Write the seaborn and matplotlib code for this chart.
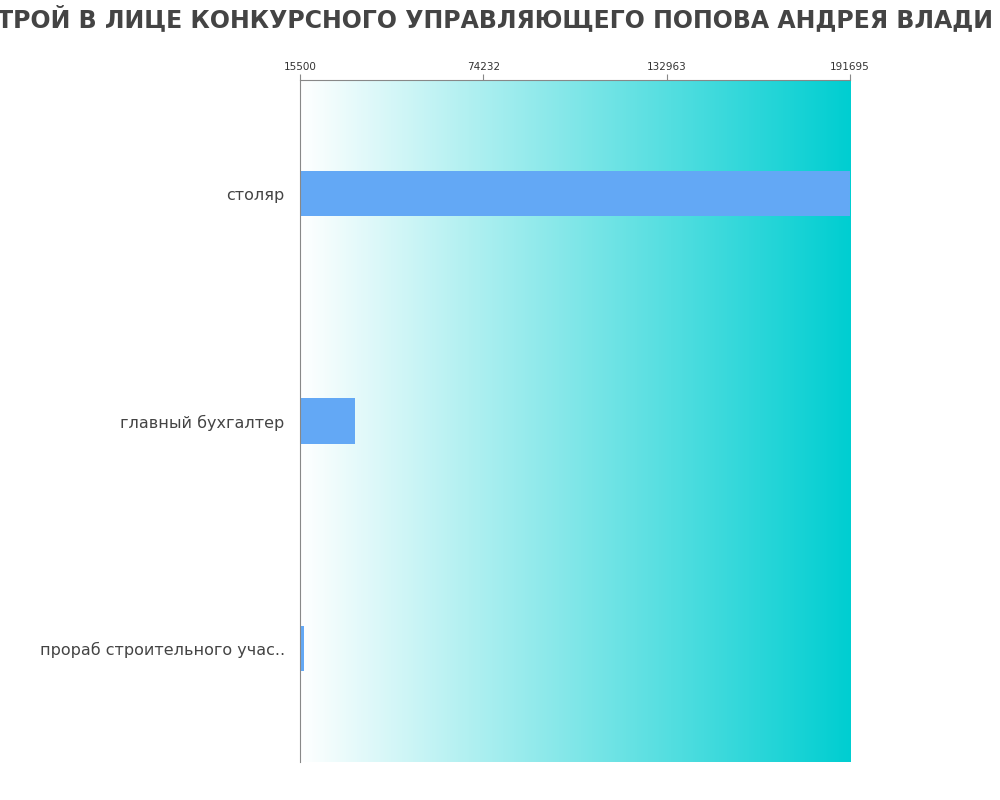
import numpy as np
import pandas as pd
import matplotlib.pyplot as plt
import seaborn as sns
from matplotlib.colors import LinearSegmentedColormap

jobs = ['столяр', 'главный бухгалтер', 'прораб строительного учас..']
salary = [191695, 33100, 16800]
ticks = [15500, 74232, 132963, 191695]
title = 'ТРОЙ В ЛИЦЕ КОНКУРСНОГО УПРАВЛЯЮЩЕГО ПОПОВА АНДРЕЯ ВЛАДИ'

df = pd.DataFrame({'job': jobs, 'salary': salary})
df['len'] = df['salary'] - ticks[0]

sns.set_style('white')
plt.rcParams['font.family'] = ['DejaVu Sans']
fig = plt.figure(figsize=(10, 8), dpi=100)
ax = fig.add_axes([0.3, 0.0475, 0.55, 0.8525])

cmap = LinearSegmentedColormap.from_list('g', ['#ffffff', '#00ced1'])
grad = np.linspace(0, 1, 256).reshape(1, -1)
ax.imshow(grad, aspect='auto', cmap=cmap, extent=[ticks[0], ticks[-1], 2.5, -0.5], zorder=0)

sns.barplot(data=df, x='len', y='job', left=ticks[0], color='#63a8f5', saturation=1,
            width=0.2, ax=ax, zorder=2, linewidth=0)
ax.set_xlim(ticks[0], ticks[-1])
ax.set_ylim(2.5, -0.5)
ax.set_xticks(ticks)
ax.set_xticklabels([str(t) for t in ticks], fontsize=7.5, color='#333333')
ax.xaxis.tick_top()
ax.tick_params(axis='x', length=4, color='#888888', pad=2)
ax.tick_params(axis='y', labelsize=11.5, labelcolor='#444444', length=0, pad=11)
ax.set_xlabel('')
ax.set_ylabel('')
for s in ['right', 'bottom']:
    ax.spines[s].set_visible(False)
for s in ['left', 'top']:
    ax.spines[s].set_color('#888888')
    ax.spines[s].set_linewidth(0.8)

fig.text(-0.003, 0.977, title, fontsize=17, fontweight='bold', color='#444444',
         ha='left', va='center')
fig.savefig('out.png')
